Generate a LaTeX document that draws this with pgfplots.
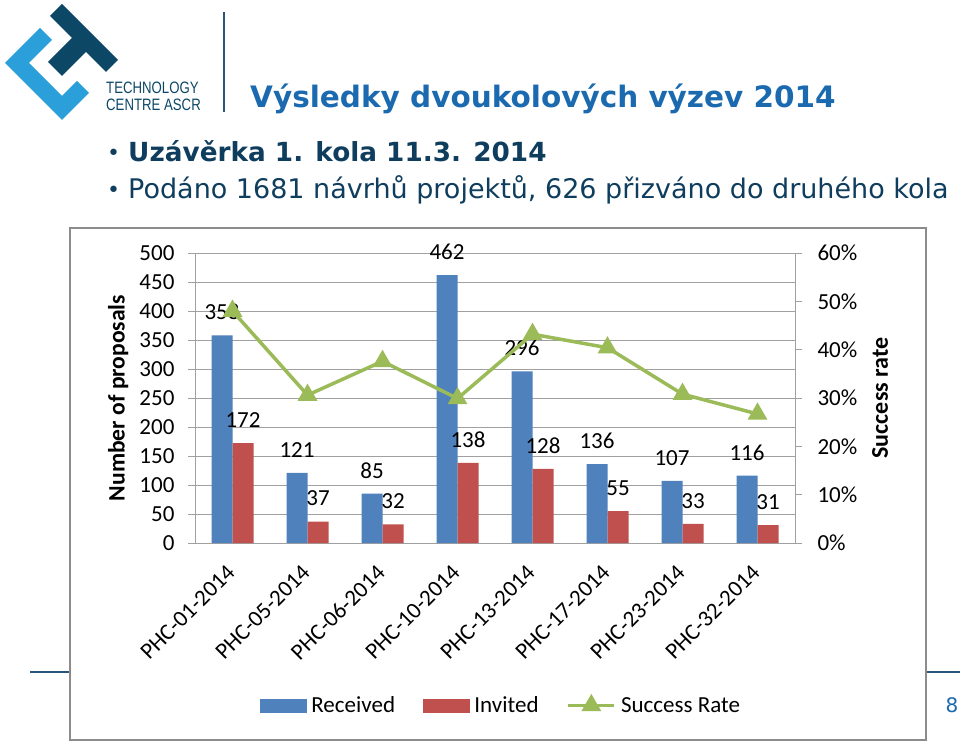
\documentclass[border=0pt]{standalone}
\usepackage{fontspec}
\setmainfont{Carlito}
\newfontfamily\verdana{DejaVu Sans}
\newfontfamily\logofont{Liberation Sans}
\usepackage{pgfplots}
\pgfplotsset{compat=1.18}

\definecolor{recv}{HTML}{4F81BD}
\definecolor{invt}{HTML}{C0504D}
\definecolor{succ}{HTML}{9BBB59}
\definecolor{gridgray}{HTML}{A0A0A0}
\definecolor{framegray}{HTML}{8C8C8C}
\definecolor{titleblue}{HTML}{1B6AB0}
\definecolor{darknavy}{HTML}{0F3D5E}
\definecolor{logolight}{HTML}{2A9FDA}
\definecolor{logodark}{HTML}{0D4766}
\definecolor{footline}{HTML}{2B5578}

\newcommand{\px}[1]{\fontsize{#1}{#1}\selectfont}

\begin{document}
\begin{tikzpicture}
\path[use as bounding box] (0pt,0pt) rectangle (960pt,-743pt);
\begin{scope}[x=1pt,y=-1pt]
  % footer line and page number
  \draw[footline, line width=1.5pt] (30,672) -- (960,672);
  \node[titleblue, anchor=base] at (952,712) {\verdana\px{20}8};
  % chart frame
  \draw[framegray, line width=2pt, fill=white] (70,228) rectangle (926,740);
  % logo
  \fill[logolight] (5,63) -- (40,28) -- (52,40) -- (29,63) -- (62,96) -- (77,81) -- (89,93) -- (62,120) -- cycle;
  \fill[logodark] (50,16) -- (62,4) -- (118,60) -- (106,72) -- (86,52) -- (62,76) -- (48,62) -- (72,38) -- cycle;
  \node[logodark, anchor=base west, inner sep=0] at (106,94) {\scalebox{0.8}[1]{\logofont\px{16.5}TECHNOLOGY}};
  \node[logodark, anchor=base west, inner sep=0] at (106,111) {\scalebox{0.8}[1]{\logofont\px{16.5}CENTRE ASCR}};
  \draw[footline, line width=1.5pt] (224,12) -- (224,112);
  % title and bullets
  \node[titleblue, anchor=base west, inner sep=0] at (250,108) {\verdana\bfseries\px{29.5}Výsledky dvoukolových výzev 2014};
  \node[darknavy, anchor=base west, inner sep=0] at (107,161) {\verdana\px{22}•};
  \node[darknavy, anchor=base west, inner sep=0] at (128,162) {\verdana\bfseries\px{26.3}Uzávěrka 1. kola 11.3. 2014};
  \node[darknavy, anchor=base west, inner sep=0] at (107,198) {\verdana\px{22}•};
  \node[darknavy, anchor=base west, inner sep=0] at (128,199) {\verdana\px{27}Podáno 1681 návrhů projektů, 626 přizváno do druhého kola};
\end{scope}

\begin{axis}[
  at={(195pt,-543pt)}, anchor=south west,
  scale only axis, width=600pt, height=290pt,
  xmin=-0.5, xmax=7.5, ymin=0, ymax=500,
  ytick={0,50,...,500},
  xtick={0,...,7},
  xticklabels={PHC-01-2014,PHC-05-2014,PHC-06-2014,PHC-10-2014,PHC-13-2014,PHC-17-2014,PHC-23-2014,PHC-32-2014},
  major x tick style={draw=none},
  extra x ticks={-0.5,0.5,...,7.5}, extra x tick labels={},
  extra x tick style={grid=none, major tick length=7pt, tick style={draw=gridgray, line width=0.8pt}},
  axis x line*=bottom, axis y line*=left,
  axis line style={draw=gridgray, line width=0.8pt, -},
  ymajorgrids, grid style={draw=gridgray, line width=0.8pt},
  tick align=outside, major tick length=7pt,
  y tick style={draw=gridgray, line width=0.8pt},
  /pgf/number format/assume math mode=true,
  tick label style={font=\px{23}},
  yticklabel style={xshift=-10pt},
  xticklabel style={rotate=45, anchor=north east, xshift=-11pt, yshift=-1pt},
  ylabel={\bfseries Number of proposals},
  ylabel style={at={(axis description cs:-0.128,0.5)}, anchor=center, font=\px{23.6}},
  ybar=0pt, bar width=21pt,
  nodes near coords,
  every node near coord/.append style={font=\px{23}, black, yshift=12pt},
]
\addplot[fill=recv, draw=none] coordinates {(0,358) (1,121) (2,85) (3,462) (4,296) (5,136) (6,107) (7,116)};
\addplot[fill=invt, draw=none] coordinates {(0,172) (1,37) (2,32) (3,138) (4,128) (5,55) (6,33) (7,31)};
\end{axis}

\begin{axis}[
  at={(195pt,-543pt)}, anchor=south west,
  scale only axis, width=600pt, height=290pt,
  xmin=-0.5, xmax=7.5, ymin=0, ymax=0.6,
  axis x line=none, axis y line*=right,
  axis line style={draw=gridgray, line width=0.8pt, -},
  ytick={0,0.1,...,0.6},
  yticklabels={0\%,10\%,20\%,30\%,40\%,50\%,60\%},
  tick align=outside, major tick length=7pt,
  y tick style={draw=gridgray, line width=0.8pt},
  tick label style={font=\px{23}},
  yticklabel style={xshift=12pt},
  ylabel={\bfseries Success rate},
  ylabel style={at={(axis description cs:1.142,0.5)}, anchor=center, font=\px{24}},
  legend style={at={(0.51,-0.56)}, anchor=center, draw=none, fill=none,
    legend columns=-1, font=\px{23},
    /tikz/every even column/.append style={column sep=26pt}},
]
\addlegendimage{legend image code/.code={\fill[recv] (0pt,-6.5pt) rectangle (46pt,6.5pt); \path (49pt,0pt);}}
\addlegendentry{Received}
\addlegendimage{legend image code/.code={\fill[invt] (0pt,-6.5pt) rectangle (46pt,6.5pt); \path (49pt,0pt);}}
\addlegendentry{Invited}
\addplot[succ, line width=3.5pt, mark=triangle*, mark size=8pt,
  legend image code/.code={\draw[succ, line width=3.5pt, mark=triangle*, mark size=8pt, mark repeat=2, mark phase=2] plot coordinates {(0pt,0pt) (23pt,0pt) (46pt,0pt)}; \path (49pt,0pt);}]
  coordinates {(0,0.480) (1,0.306) (2,0.376) (3,0.299) (4,0.432) (5,0.404) (6,0.308) (7,0.267)};
\addlegendentry{Success Rate}
\end{axis}
\end{tikzpicture}
\end{document}
